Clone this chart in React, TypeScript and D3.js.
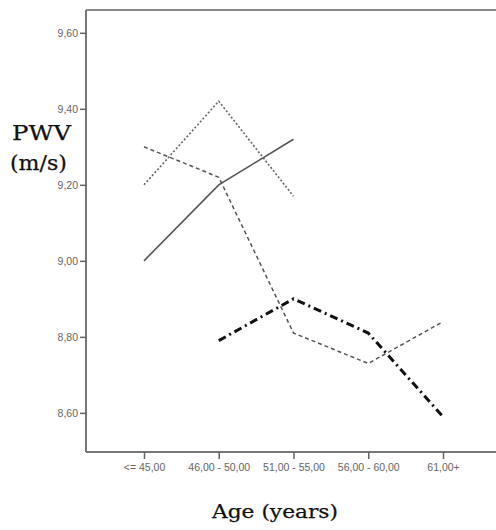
import React, { useEffect, useRef } from "react";
import * as d3 from "d3";

const ageGroups = ["<= 45,00", "46,00 - 50,00", "51,00 - 55,00", "56,00 - 60,00", "61,00+"];
const yTicks = [8.6, 8.8, 9.0, 9.2, 9.4, 9.6];

// values per age group (null = no value)
const solidSeries = [9.0, 9.2, 9.32, null, null];
const dottedSeries = [9.2, 9.42, 9.17, null, null];
const dashedSeries = [9.3, 9.22, 8.81, 8.73, 8.84];
const dashDotSeries = [null, 8.79, 8.9, 8.81, 8.59];

const App = () => {
    const svgRef = useRef(null);

    useEffect(() => {
        const svg = d3.select(svgRef.current);
        svg.selectAll("*").remove();

        const width = 496, height = 530;
        const left = 86, top = 10, bottom = 452;
        const serif = "DejaVu Serif, Liberation Serif, serif";
        const sans = "Liberation Sans, Arial, sans-serif";

        const x = d3.scalePoint().domain(ageGroups).range([144, 443]);
        const y = d3.scaleLinear().domain([8.497, 9.66]).range([bottom, top]);

        svg.append("rect").attr("width", width).attr("height", height).attr("fill", "#fff");

        // frame: top, left, bottom
        svg.append("line").attr("x1", left).attr("x2", width).attr("y1", top).attr("y2", top)
            .attr("stroke", "#888").attr("stroke-width", 2);

        const yAxis = svg.append("g")
            .attr("transform", `translate(${left},0)`)
            .call(d3.axisLeft(y).tickValues(yTicks).tickSize(6).tickPadding(2)
                .tickFormat(d => d3.format(".2f")(d).replace(".", ",")));
        yAxis.select(".domain").attr("d", `M0,${top}V${bottom}`).attr("stroke", "#777").attr("stroke-width", 2);
        yAxis.selectAll(".tick line").attr("stroke", "#666").attr("stroke-width", 1.5);
        yAxis.selectAll(".tick text").attr("fill", "#666").attr("font-size", 10.5).attr("font-family", sans);

        const xAxis = svg.append("g")
            .attr("transform", `translate(0,${bottom})`)
            .call(d3.axisBottom(x).tickSize(7).tickPadding(5));
        xAxis.select(".domain").attr("d", `M${left},0H${width}`).attr("stroke", "#777").attr("stroke-width", 2);
        xAxis.selectAll(".tick line").attr("stroke", "#666").attr("stroke-width", 1.5);
        xAxis.selectAll(".tick text").attr("fill", "#666").attr("font-size", 10.5).attr("font-family", sans);

        const line = d3.line()
            .defined(d => d != null)
            .x((d, i) => x(ageGroups[i]))
            .y(d => y(d));

        const series = [
            { data: solidSeries, color: "#555", width: 1.6, dash: null },
            { data: dottedSeries, color: "#666", width: 1.6, dash: "2,2" },
            { data: dashedSeries, color: "#555", width: 1.5, dash: "4,3" },
            { data: dashDotSeries, color: "#111", width: 3, dash: "8,4,2,4" },
        ];

        series.forEach(s => {
            svg.append("path")
                .datum(s.data)
                .attr("fill", "none")
                .attr("stroke", s.color)
                .attr("stroke-width", s.width)
                .attr("stroke-dasharray", s.dash)
                .attr("d", line);
        });

        const label = (txt, x0, y0, size, len) =>
            svg.append("text").attr("x", x0).attr("y", y0)
                .attr("font-family", serif)
                .attr("font-size", size).attr("fill", "#111")
                .attr("stroke", "#111").attr("stroke-width", 0.25)
                .attr("textLength", len).attr("lengthAdjust", "spacingAndGlyphs").text(txt);

        label("PWV", 12, 140, 20, 59);
        label("(m/s)", 10, 170, 20, 57);
        label("Age (years)", 212, 518, 18, 126);
    }, []);

    return (
        <div style={{ position: "absolute", left: 0, top: 0 }}>
            <svg ref={svgRef} width={496} height={530} style={{ display: "block" }}></svg>
        </div>
    );
};

export default App;
